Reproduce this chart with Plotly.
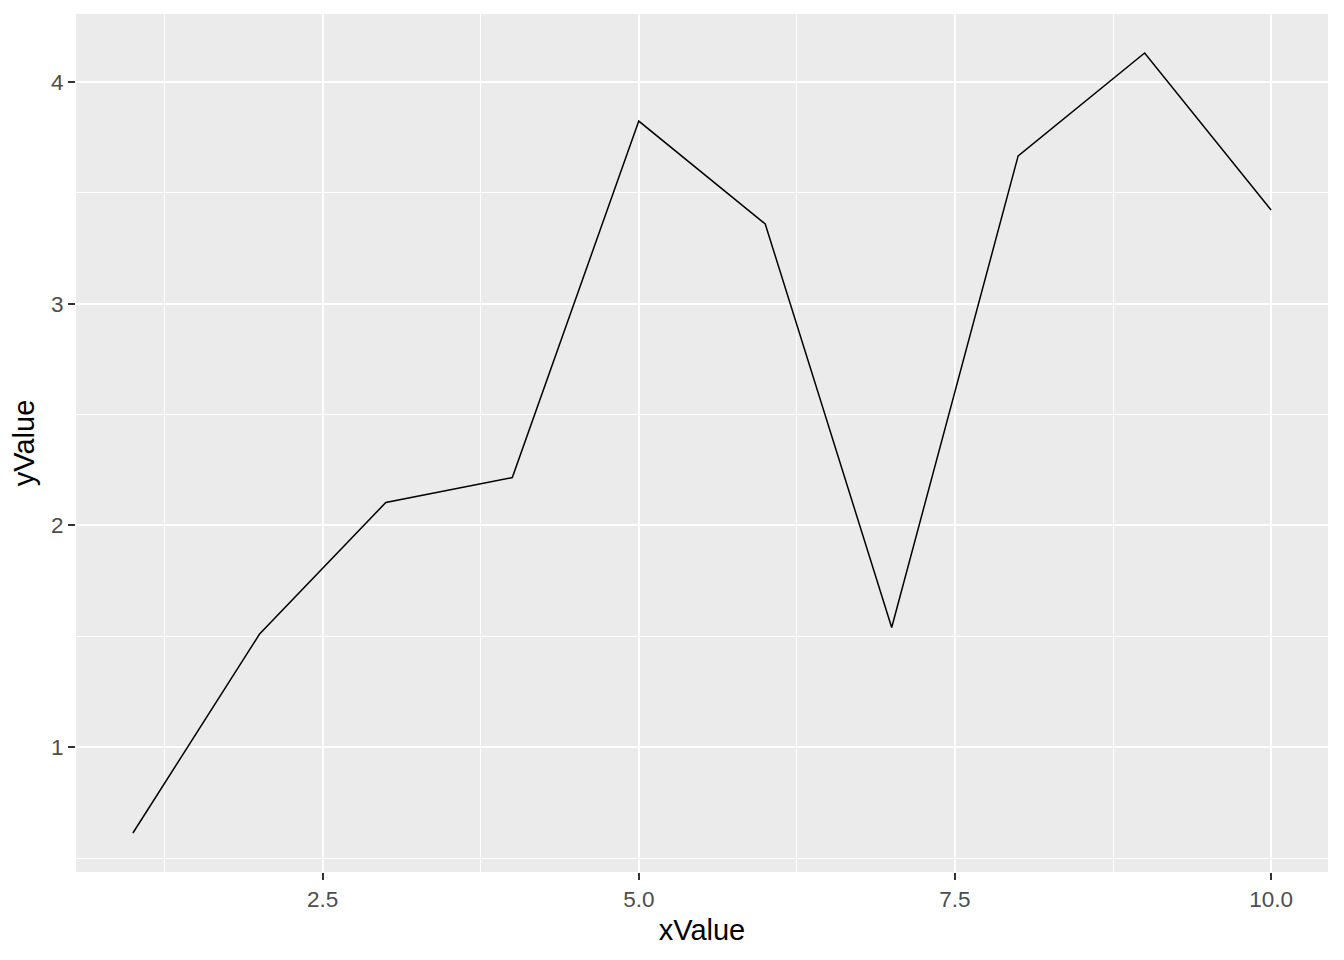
import plotly.graph_objects as go

x_values = [1, 2, 3, 4, 5, 6, 7, 8, 9, 10]
y_values = [0.613, 1.509, 2.104, 2.216, 3.824, 3.36, 1.54, 3.667, 4.131, 3.423]
x_ticks = [2.5, 5.0, 7.5, 10.0]
x_ticklabels = ["2.5", "5.0", "7.5", "10.0"]
y_ticks = [1, 2, 3, 4]
y_ticklabels = ["1", "2", "3", "4"]

fig = go.Figure(go.Scatter(x=x_values, y=y_values, mode="lines",
                           line=dict(color="black", width=1.5), showlegend=False))

xmin, xmax = min(x_values), max(x_values)
ymin, ymax = min(y_values), max(y_values)
xpad = (xmax - xmin) * 0.05
ypad = (ymax - ymin) * 0.05

axis_common = dict(
    showgrid=True, gridcolor="white", gridwidth=2,
    zeroline=False, showline=False,
    ticks="outside", ticklen=7, tickwidth=2, tickcolor="#333333",
    tickfont=dict(family="Liberation Sans, Arial", size=22.5, color="#4D4D4D"),
    title_font=dict(family="Liberation Sans, Arial", size=29, color="black"),
)

fig.update_xaxes(**axis_common, range=[xmin - xpad, xmax + xpad],
                 tickmode="array", tickvals=x_ticks, ticktext=x_ticklabels,
                 minor=dict(tickmode="array", tickvals=[1.25, 3.75, 6.25, 8.75],
                            showgrid=True, gridcolor="white", gridwidth=1, ticks=""),
                 title=dict(text="xValue", standoff=8))
fig.update_yaxes(**axis_common, range=[ymin - ypad, ymax + ypad],
                 tickmode="array", tickvals=y_ticks, ticktext=y_ticklabels,
                 minor=dict(tickmode="array", tickvals=[0.5, 1.5, 2.5, 3.5],
                            showgrid=True, gridcolor="white", gridwidth=1, ticks=""),
                 title=dict(text="yValue", standoff=8))

fig.update_layout(
    width=1336, height=952,
    margin=dict(l=68, r=16, t=6, b=88),
    plot_bgcolor="#EBEBEB", paper_bgcolor="white",
)

fig.write_html("out.html")
